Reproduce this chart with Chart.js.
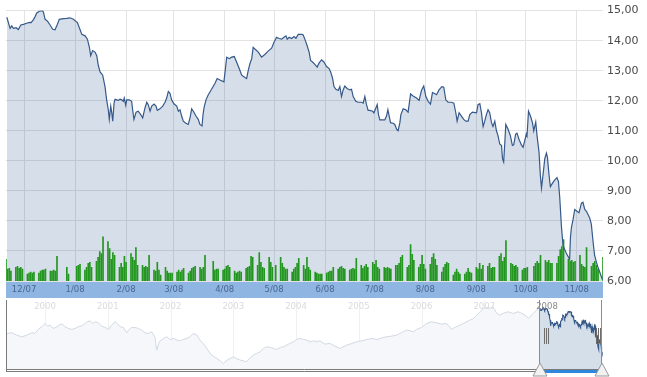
<!DOCTYPE html>
<html>
<head>
<meta charset="utf-8">
<script src="https://cdn.jsdelivr.net/npm/chart.js@4.4.0/dist/chart.umd.min.js"></script>
<style>
  html, body { margin: 0; padding: 0; background: #fff; }
  #wrap { position: relative; width: 647px; height: 377px; overflow: hidden; }
  #main { position: absolute; left: 0; top: 0; }
  #nav { position: absolute; left: 0; top: 298px; }
</style>
</head>
<body>
<div id="wrap">
  <canvas id="main" width="647" height="298"></canvas>
  <canvas id="nav" width="647" height="79"></canvas>
</div>
<script>
// x values are days counted from 1 Dec 2007
const monthStarts = [0, 31, 62, 91, 122, 152, 183, 213, 244, 275, 305, 336];
const monthLabels = ["12/07", "1/08", "2/08", "3/08", "4/08", "5/08", "6/08", "7/08", "8/08", "9/08", "10/08", "11/08"];
const priceTicks = [6, 7, 8, 9, 10, 11, 12, 13, 14, 15];

const priceDays = [
  -10.5, -8.5, -7.5, -6.5, -4.9, -3.5, -2.0, -0.4, 1.6, 3.2, 4.3, 5.7, 6.7, 7.7, 9.3, 10.8, 11.7, 12.8, 14.2, 15.8,
  17.4, 18.8, 20.2, 21.4, 23.9, 25.9, 27.9, 30.0, 32.4, 33.6, 35.1, 37.1, 38.5, 39.7, 40.5, 41.7, 43.1, 44.2, 45.1, 46.2,
  47.8, 49.2, 50.2, 51.2, 51.8, 52.7, 53.3, 53.9, 54.7, 55.3, 56.3, 57.3, 58.3, 59.4, 60.3, 60.9, 61.8, 62.4, 64.0, 65.4,
  66.0, 66.8, 68.1, 69.4, 70.9, 72.1, 73.5, 74.6, 75.5, 76.6, 77.6, 79.0, 80.2, 81.0, 82.6, 84.3, 85.7, 86.7, 87.7, 88.7,
  89.7, 91.1, 92.8, 93.8, 94.8, 95.8, 96.8, 98.4, 99.8, 100.9, 101.9, 102.9, 104.5, 105.9, 106.9, 108.2, 108.8, 109.4, 110.6, 112.0,
  114.0, 116.1, 117.4, 119.1, 121.5, 123.2, 124.7, 126.2, 127.8, 129.2, 130.8, 132.3, 134.3, 135.3, 136.3, 137.3, 138.4, 139.3, 140.4, 142.4,
  144.4, 146.4, 148.4, 150.5, 151.9, 153.5, 155.1, 156.6, 158.0, 159.2, 160.0, 161.2, 162.7, 164.1, 165.3, 166.7, 168.9, 169.7, 170.7, 172.1,
  173.3, 174.2, 175.4, 176.8, 178.2, 179.4, 180.9, 182.3, 183.9, 185.5, 186.4, 187.6, 188.4, 189.6, 191.0, 192.0, 193.0, 194.0, 195.0, 196.4,
  198.1, 199.1, 200.1, 201.7, 203.1, 205.2, 206.2, 207.2, 208.2, 209.2, 210.2, 211.9, 212.7, 213.9, 214.7, 215.5, 216.3, 217.3, 219.3, 220.4,
  221.2, 222.0, 222.8, 224.4, 225.4, 226.5, 227.4, 228.5, 229.1, 230.5, 232.1, 233.5, 235.0, 236.5, 238.6, 240.2, 241.6, 243.0, 244.3, 245.7,
  247.1, 248.3, 249.3, 250.8, 252.3, 254.0, 255.2, 256.4, 257.8, 259.9, 261.3, 262.5, 263.3, 264.5, 265.9, 267.3, 268.6, 270.0, 271.0, 272.6,
  275.1, 276.0, 277.1, 278.1, 279.1, 280.1, 281.1, 282.1, 283.1, 284.2, 285.1, 286.2, 287.2, 288.2, 289.2, 290.3, 290.9, 291.6, 292.3, 292.9,
  294.3, 295.7, 296.9, 297.7, 298.9, 299.7, 300.9, 302.4, 303.4, 304.4, 305.4, 305.8, 306.7, 307.9, 309.1, 309.9, 311.1, 311.9, 313.1, 313.9,
  314.6, 315.5, 316.6, 317.6, 318.2, 319.2, 320.0, 321.2, 322.6, 324.0, 324.9, 325.7, 326.7, 327.7, 329.7, 331.7, 332.2, 332.8, 333.8, 334.8,
  336.2, 337.4, 338.9, 339.8, 340.9, 341.9, 342.9, 343.9, 344.9, 345.9, 346.9, 348.0, 348.9, 350.0, 351.0, 351.6
];
const prices = [
  14.78, 14.41, 14.49, 14.41, 14.43, 14.37, 14.52, 14.54, 14.58, 14.61, 14.60, 14.70, 14.80, 14.92, 14.98, 15.00, 14.96, 14.71, 14.65, 14.52,
  14.38, 14.36, 14.54, 14.71, 14.73, 14.74, 14.76, 14.71, 14.60, 14.43, 14.21, 14.16, 14.05, 13.78, 13.50, 13.67, 13.62, 13.50, 13.18, 12.96,
  12.85, 12.47, 12.03, 11.70, 11.38, 11.82, 11.60, 11.32, 11.92, 12.05, 12.03, 12.01, 12.05, 12.03, 11.98, 12.09, 11.85, 12.03, 12.03, 11.98,
  11.70, 11.38, 11.62, 11.65, 11.54, 11.43, 11.76, 11.95, 11.87, 11.65, 11.82, 11.89, 11.82, 11.68, 11.73, 11.82, 11.95, 12.09, 12.31, 12.25,
  12.03, 11.90, 11.82, 11.65, 11.70, 11.49, 11.32, 11.25, 11.21, 11.43, 11.73, 11.65, 11.49, 11.38, 11.21, 11.16, 11.54, 11.76, 12.03, 12.20,
  12.38, 12.58, 12.74, 12.69, 12.63, 13.45, 13.40, 13.45, 13.47, 13.29, 13.07, 12.85, 12.77, 12.74, 13.01, 13.23, 13.40, 13.78, 13.72, 13.62,
  13.45, 13.54, 13.65, 13.75, 13.94, 14.11, 14.07, 14.05, 14.11, 14.16, 14.05, 14.11, 14.07, 14.14, 14.08, 14.21, 14.21, 14.19, 14.05, 13.83,
  13.62, 13.34, 13.29, 13.21, 13.12, 13.26, 13.36, 13.29, 13.14, 13.07, 12.96, 12.74, 12.47, 12.38, 12.34, 12.47, 12.14, 12.36, 12.49, 12.41,
  12.36, 12.38, 12.14, 11.98, 11.95, 11.95, 11.92, 12.14, 11.87, 11.68, 11.68, 11.65, 11.60, 11.76, 11.87, 11.54, 11.36, 11.36, 11.36, 11.49,
  11.70, 11.49, 11.27, 11.25, 11.21, 11.05, 11.00, 11.27, 11.54, 11.73, 11.70, 11.62, 12.23, 12.16, 12.09, 12.01, 12.34, 12.49, 12.14, 11.98,
  11.89, 12.27, 12.25, 12.20, 12.36, 12.47, 12.45, 12.03, 11.95, 11.95, 11.92, 11.60, 11.32, 11.60, 11.49, 11.38, 11.32, 11.32, 11.54, 11.62,
  11.60, 11.87, 11.90, 11.60, 11.14, 11.32, 11.54, 11.70, 11.60, 11.27, 11.14, 11.32, 11.00, 10.83, 10.56, 10.51, 10.07, 9.96, 10.61, 11.21,
  11.05, 10.83, 10.51, 10.53, 10.89, 10.92, 10.72, 10.53, 10.45, 10.67, 10.89, 10.83, 11.65, 11.49, 11.27, 11.00, 11.29, 10.83, 10.29, 9.52,
  9.09, 9.52, 10.07, 10.26, 10.12, 9.52, 9.14, 9.25, 9.36, 9.44, 9.31, 8.78, 7.83, 7.18, 6.92, 6.72, 7.44, 7.78, 8.05, 8.38,
  8.32, 8.27, 8.59, 8.62, 8.38, 8.32, 8.21, 8.10, 7.89, 7.34, 6.85, 6.63, 6.47, 6.30, 6.14, 6.05
];

// volume per trading day, one row per week (Mon..Fri), null = no trading
const volWeeks = [-12, -5, 2, 9, 16, 23, 30, 37, 44, 51, 58, 65, 72, 79, 86, 93, 100, 107, 114, 121, 128, 135, 142, 149, 156, 163,
  170, 177, 184, 191, 198, 205, 212, 219, 226, 233, 240, 247, 254, 261, 268, 275, 282, 289, 296, 303, 310, 317, 324, 331, 338, 345, 352];
const volumes = [
  [null, 22, 12, 13, 10], [14, 15, 13, 14, 12], [7, 8, 9, 8, 9], [8, 10, 11, 11, 12], [10, 10, 11, 10, 25],
  [null, null, null, 14, 7], [null, null, 15, 16, 17], [11, 14, 18, 19, 14], [20, 24, 30, 28, 45], [40, 33, 22, 29, 26],
  [14, 18, 14, 25, 19], [28, 24, 21, 34, 16], [16, 14, 15, 14, 26], [11, 10, 19, 11, 6], [14, 10, 8, 8, 8],
  [9, 11, 9, 11, 13], [8, 10, 13, 14, 15], [14, 12, 14, 26, null], [null, 20, 11, 12, 12], [11, 12, 15, 16, 14],
  [10, 8, 9, 10, 9], [13, 14, 15, 25, 24], [16, 29, 19, 14, 13], [24, 19, 14, null, 16], [24, 18, 14, 12, 12],
  [9, 12, 14, 18, 23], [16, 12, 24, 14, 11], [9, 8, 7, 7, 7], [8, 9, 10, 10, 14], [12, 14, 15, 13, 12],
  [11, 12, 13, 12, 23], [16, 13, 15, 17, 14], [19, 17, 21, 14, 12], [14, 13, 14, 13, 12], [16, 16, 18, 24, 26],
  [14, 16, 37, 27, 21], [14, 17, 26, 17, 12], [17, 24, 28, 22, 16], [9, 14, 17, 19, 18], [6, 9, 12, 9, 7],
  [7, 9, 13, 9, 8], [14, 12, 18, 12, 16], [15, 18, 13, 14, 14], [25, 28, 20, 24, 41], [18, 17, 15, 16, 14],
  [11, 13, 13, 14, null], [15, 18, 20, 18, 26], [21, 19, 21, 18, 18], [18, 25, 32, 35, 42], [22, 20, 21, 19, 20],
  [26, 17, 15, 14, 34], [15, 18, 20, 16, 12], [24]
];

// navigator: long history, x in years
const navYears = [
  1999.39, 1999.47, 1999.55, 1999.63, 1999.71, 1999.79, 1999.84, 1999.89, 1999.95, 2000.00, 2000.04, 2000.08, 2000.13, 2000.19, 2000.24,
  2000.28, 2000.32, 2000.37, 2000.43, 2000.48, 2000.53, 2000.58, 2000.64, 2000.67, 2000.72, 2000.76, 2000.80, 2000.85, 2000.90, 2000.96,
  2001.01, 2001.06, 2001.12, 2001.15, 2001.20, 2001.25, 2001.30, 2001.34, 2001.38, 2001.43, 2001.49, 2001.54, 2001.59, 2001.65, 2001.70,
  2001.75, 2001.78, 2001.82, 2001.89, 2001.94, 2001.99, 2002.05, 2002.10, 2002.15, 2002.20, 2002.26, 2002.31, 2002.36, 2002.42, 2002.47,
  2002.52, 2002.58, 2002.63, 2002.68, 2002.74, 2002.79, 2002.84, 2002.90, 2002.95, 2003.00, 2003.05, 2003.11, 2003.16, 2003.21, 2003.26,
  2003.32, 2003.37, 2003.43, 2003.48, 2003.53, 2003.59, 2003.64, 2003.69, 2003.75, 2003.80, 2003.85, 2003.90, 2003.96, 2004.01, 2004.06,
  2004.12, 2004.17, 2004.22, 2004.28, 2004.33, 2004.38, 2004.46, 2004.54, 2004.62, 2004.70, 2004.75, 2004.81, 2004.89, 2004.97, 2005.05,
  2005.13, 2005.21, 2005.29, 2005.37, 2005.44, 2005.52, 2005.60, 2005.68, 2005.76, 2005.82, 2005.87, 2005.92, 2006.00, 2006.08, 2006.16,
  2006.24, 2006.32, 2006.39, 2006.45, 2006.48, 2006.53, 2006.61, 2006.69, 2006.77, 2006.83, 2006.88, 2006.93, 2006.99, 2007.04, 2007.09,
  2007.14, 2007.20, 2007.25, 2007.30, 2007.38, 2007.46, 2007.54, 2007.60, 2007.65, 2007.70, 2007.78, 2007.86
];
const navPrices = [
  9.86, 9.99, 9.53, 9.20, 9.53, 9.99, 9.86, 10.64, 11.16, 11.81, 11.29, 11.49, 10.84, 11.16, 11.62,
  11.68, 11.16, 10.84, 10.64, 10.84, 11.16, 11.29, 11.81, 12.14, 12.34, 11.81, 12.14, 11.94, 11.29, 11.03,
  10.64, 11.49, 12.14, 11.81, 11.16, 11.03, 9.99, 10.64, 11.03, 11.03, 10.84, 10.51, 9.99, 9.86, 10.18,
  9.20, 6.60, 8.23, 8.88, 9.20, 8.68, 8.88, 8.55, 8.42, 8.68, 8.88, 9.20, 9.86, 9.53, 8.55,
  7.90, 6.92, 5.94, 5.42, 4.96, 4.51, 3.99, 4.64, 4.96, 5.29, 4.96, 4.64, 4.51, 4.31, 4.96,
  5.62, 5.94, 6.27, 6.92, 7.25, 7.12, 6.92, 6.73, 7.12, 7.25, 7.57, 7.90, 8.23, 8.68, 8.88,
  8.68, 8.55, 8.23, 8.42, 8.23, 8.42, 7.77, 7.90, 7.38, 6.92, 7.25, 7.57, 7.90, 8.23, 8.42,
  8.68, 8.88, 8.68, 9.01, 9.20, 9.33, 9.53, 9.99, 10.51, 10.38, 10.18, 10.64, 11.03, 11.81, 12.14,
  11.94, 11.68, 11.81, 11.16, 10.64, 11.03, 11.49, 11.94, 12.47, 12.79, 13.44, 14.10, 14.75, 14.95, 14.75,
  15.07, 13.77, 13.44, 13.77, 14.10, 13.77, 14.10, 13.77, 13.44, 12.79, 13.77, 14.75
];
const navYearTicks = [2000, 2001, 2002, 2003, 2004, 2005, 2006, 2007, 2008];
const navYearLabels = ["2000", "2001", "2002", "2003", "2004", "2005", "2006", "2007", "2008"];

const dayMin = -11, dayMax = 352;
const dayToYear = d => 2007 + (334 + d) / 365;

const pricePoints = priceDays.map((d, i) => ({ x: d, y: prices[i] }));
const volumeBars = [];
volWeeks.forEach((monday, w) => {
  volumes[w].forEach((v, k) => {
    if (v !== null) volumeBars.push({ x: monday + k, y: v });
  });
});

const bandPlugin = {
  id: "band",
  beforeDraw(chart) {
    const { ctx, chartArea } = chart;
    const xs = chart.scales.x;
    ctx.save();
    ctx.fillStyle = "#8fb5e3";
    ctx.fillRect(chartArea.left, chartArea.bottom, chartArea.right - chartArea.left, xs.bottom - chartArea.bottom);
    ctx.restore();
  }
};

new Chart(document.getElementById("main"), {
  type: "line",
  data: {
    datasets: [
      {
        data: pricePoints,
        borderColor: "#36598a",
        borderWidth: 1.2,
        backgroundColor: "rgba(52, 94, 146, 0.2)",
        fill: "start",
        pointRadius: 0,
        tension: 0,
        order: 0
      },
      {
        type: "bar",
        data: volumeBars,
        yAxisID: "vol",
        backgroundColor: "#23961f",
        barThickness: 1,
        order: 1
      }
    ]
  },
  options: {
    responsive: false,
    animation: false,
    devicePixelRatio: 1,
    layout: { padding: { left: 6, top: 6, right: 0, bottom: 0 } },
    scales: {
      x: {
        type: "linear",
        offset: false,
        min: dayMin,
        max: dayMax,
        afterBuildTicks: s => { s.ticks = monthStarts.map(v => ({ value: v })); },
        afterFit: s => { s.height = 17; },
        grid: { color: "#e3e3e3", drawTicks: false, offset: false },
        border: { display: false },
        ticks: {
          autoSkip: false,
          maxRotation: 0,
          padding: 4,
          color: "#4a678f",
          font: { family: "DejaVu Sans", size: 8.5 },
          callback: (v, i) => monthLabels[i]
        }
      },
      y: {
        position: "right",
        min: 6,
        max: 15,
        afterBuildTicks: s => { s.ticks = priceTicks.map(v => ({ value: v })); },
        afterFit: s => { s.width = 44; },
        grid: { color: "#e3e3e3", drawTicks: false },
        border: { display: false },
        ticks: {
          padding: 4,
          color: "#4a4a4a",
          font: { family: "DejaVu Sans", size: 11 },
          callback: v => v.toFixed(2).replace(".", ",")
        }
      },
      vol: { display: false, min: 0, max: 275 }
    },
    plugins: {
      legend: { display: false },
      tooltip: { enabled: false },
      filler: { drawTime: "beforeDatasetsDraw" }
    }
  },
  plugins: [bandPlugin]
});

// navigator below the main chart
const selStart = dayToYear(dayMin), selEnd = dayToYear(dayMax);
const selectionPoints = priceDays.map((d, i) => ({ x: dayToYear(d), y: prices[i] }));
const historyPoints = navYears.map((t, i) => ({ x: t, y: navPrices[i] }));
historyPoints.push(selectionPoints[0]);

const navPlugin = {
  id: "navDeco",
  beforeDatasetsDraw(chart) {
    const { ctx, chartArea: a } = chart;
    const xs = chart.scales.x;
    ctx.save();
    ctx.strokeStyle = "#f1f1f1";
    ctx.lineWidth = 1;
    navYearTicks.forEach(t => {
      const px = Math.round(xs.getPixelForValue(t)) + 0.5;
      ctx.beginPath();
      ctx.moveTo(px, a.top);
      ctx.lineTo(px, a.bottom);
      ctx.stroke();
    });
    ctx.restore();
  },
  afterDatasetsDraw(chart) {
    const { ctx, chartArea: a } = chart;
    const xs = chart.scales.x;
    const x0 = Math.round(xs.getPixelForValue(selStart));
    const x1 = Math.round(xs.getPixelForValue(selEnd));
    ctx.save();
    // year labels
    ctx.font = "8.5px 'DejaVu Sans'";
    ctx.textAlign = "center";
    ctx.textBaseline = "middle";
    navYearTicks.forEach((t, i) => {
      ctx.fillStyle = t >= 2008 ? "#8a8a8a" : "#dadada";
      ctx.fillText(navYearLabels[i], xs.getPixelForValue(t), a.top + 7);
    });
    // frame
    ctx.strokeStyle = "#7a7a7a";
    ctx.lineWidth = 1;
    ctx.beginPath();
    ctx.moveTo(a.left + 0.5, a.top);
    ctx.lineTo(a.left + 0.5, a.bottom + 3);
    ctx.moveTo(a.left, a.bottom + 0.5);
    ctx.lineTo(a.right, a.bottom + 0.5);
    ctx.moveTo(a.left, a.bottom + 2.5);
    ctx.lineTo(a.right, a.bottom + 2.5);
    ctx.stroke();
    // selection edges
    ctx.strokeStyle = "#8c8c8c";
    ctx.beginPath();
    ctx.moveTo(x0 - 0.5, a.top);
    ctx.lineTo(x0 - 0.5, a.bottom);
    ctx.moveTo(x1 - 0.5, a.top);
    ctx.lineTo(x1 - 0.5, a.bottom);
    ctx.stroke();
    // grips
    ctx.strokeStyle = "#6d6d6d";
    [x0 + 4, x0 + 6, x0 + 8, x1 - 6, x1 - 4, x1 - 2].forEach(gx => {
      ctx.beginPath();
      ctx.moveTo(gx + 0.5, a.top + 28);
      ctx.lineTo(gx + 0.5, a.top + 44);
      ctx.stroke();
    });
    // selected range bar
    ctx.fillStyle = "#2d87dc";
    ctx.fillRect(x0, a.bottom + 1, x1 - x0, 3);
    // handles
    [x0, x1].forEach(hx => {
      ctx.beginPath();
      ctx.moveTo(hx, a.bottom - 6);
      ctx.lineTo(hx + 7, a.bottom + 7);
      ctx.lineTo(hx - 7, a.bottom + 7);
      ctx.closePath();
      ctx.fillStyle = "#f2f2f2";
      ctx.fill();
      ctx.strokeStyle = "#9a9a9a";
      ctx.stroke();
    });
    ctx.restore();
  }
};

new Chart(document.getElementById("nav"), {
  type: "line",
  data: {
    datasets: [
      {
        data: selectionPoints,
        borderColor: "#36598a",
        borderWidth: 1.1,
        backgroundColor: "#d5dfea",
        fill: "start",
        pointRadius: 0,
        order: 0
      },
      {
        data: historyPoints,
        borderColor: "#d2d9e3",
        borderWidth: 1,
        backgroundColor: "#f5f7fa",
        fill: "start",
        pointRadius: 0,
        order: 1
      }
    ]
  },
  options: {
    responsive: false,
    animation: false,
    devicePixelRatio: 1,
    layout: { padding: { left: 6, right: 44, top: 2, bottom: 8 } },
    scales: {
      x: { type: "linear", display: false, min: 1999.378, max: 2008.892 },
      y: { display: false, min: 2.9, max: 16.4 }
    },
    plugins: {
      legend: { display: false },
      tooltip: { enabled: false }
    }
  },
  plugins: [navPlugin]
});
</script>
</body>
</html>
